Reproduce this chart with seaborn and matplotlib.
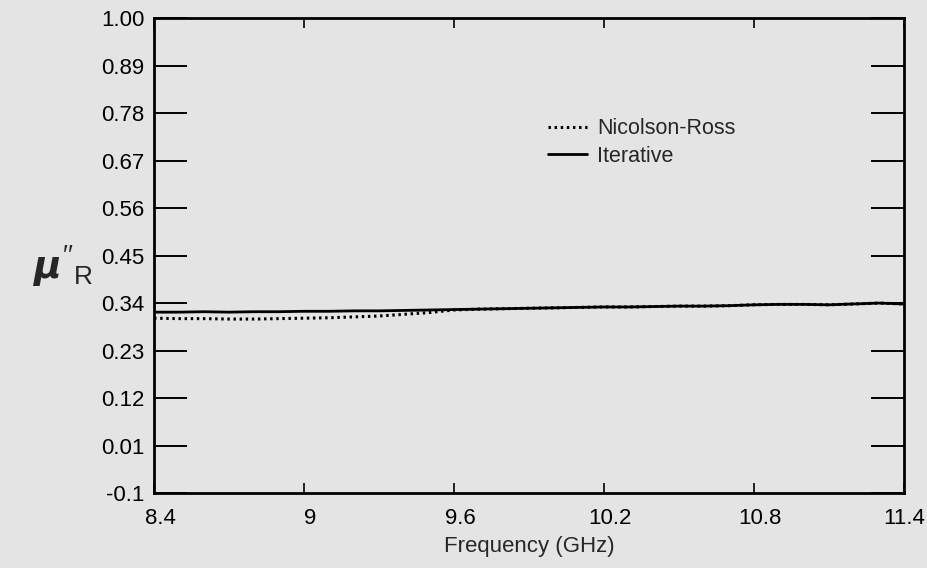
import matplotlib
matplotlib.use("Agg")
import matplotlib.pyplot as plt
import matplotlib.transforms as mtransforms
import pandas as pd
import seaborn as sns

# frequency grid (GHz) and the two extracted permeability curves
freq = [8.4, 8.5, 8.6, 8.7, 8.8, 8.9, 9.0, 9.1, 9.2, 9.3, 9.4, 9.5, 9.6, 9.7, 9.8, 9.9,
        10.0, 10.1, 10.2, 10.3, 10.4, 10.5, 10.6, 10.7, 10.8, 10.9, 11.0, 11.1, 11.2, 11.3, 11.4]
iterative = [0.319, 0.319, 0.320, 0.319, 0.320, 0.320, 0.321, 0.321, 0.322, 0.322, 0.323,
             0.324, 0.325, 0.326, 0.327, 0.328, 0.329, 0.330, 0.331, 0.331, 0.332, 0.333,
             0.333, 0.334, 0.336, 0.337, 0.337, 0.336, 0.338, 0.340, 0.338]
nicolson_ross = [0.305, 0.304, 0.304, 0.303, 0.303, 0.304, 0.305, 0.306, 0.308, 0.310, 0.314,
                 0.318, 0.324, 0.326, 0.327, 0.328, 0.329, 0.330, 0.331, 0.331, 0.332, 0.333,
                 0.333, 0.334, 0.336, 0.337, 0.337, 0.336, 0.338, 0.340, 0.338]

xticks = [8.4, 9.0, 9.6, 10.2, 10.8, 11.4]
xtick_labels = ["8.4", "9", "9.6", "10.2", "10.8", "11.4"]
yticks = [-0.1, 0.01, 0.12, 0.23, 0.34, 0.45, 0.56, 0.67, 0.78, 0.89, 1.00]
ytick_labels = ["-0.1", "0.01", "0.12", "0.23", "0.34", "0.45", "0.56", "0.67", "0.78", "0.89", "1.00"]

BG = "#e4e4e4"

sns.set_style("ticks")
plt.rcParams["font.family"] = ["Liberation Sans", "DejaVu Sans"]
plt.rcParams["mathtext.fontset"] = "custom"
plt.rcParams["mathtext.it"] = "DejaVu Sans:italic:bold"
plt.rcParams["mathtext.rm"] = "Liberation Sans"

df = pd.DataFrame({"freq": freq, "Iterative": iterative, "Nicolson-Ross": nicolson_ross})

fig = plt.figure(figsize=(9.28, 5.68), dpi=100, facecolor=BG)
ax = fig.add_axes([0.166, 0.132, 0.808, 0.836], facecolor=BG)

sns.lineplot(data=df, x="freq", y="Nicolson-Ross", ax=ax, color="black",
             linestyle=(0, (0.8, 1.2)), linewidth=2.2, label="Nicolson-Ross")
sns.lineplot(data=df, x="freq", y="Iterative", ax=ax, color="black",
             linewidth=2.0, label="Iterative")

ax.set_xlim(8.4, 11.4)
ax.set_ylim(-0.1, 1.0)
ax.set_xticks(xticks)
ax.set_xticklabels(xtick_labels)
ax.set_yticks(yticks)
ax.set_yticklabels(ytick_labels)

ax.tick_params(axis="y", direction="in", length=24, width=1.4, left=True, right=True,
               labelsize=16, pad=7, colors="black")
ax.tick_params(axis="x", direction="in", length=7, width=1.2, top=True, bottom=True,
               labelsize=16, pad=11, colors="black")

# the scanned x tick labels sit a little right of their ticks (last one stays put)
shift = mtransforms.ScaledTranslation(6 / 100, 0, fig.dpi_scale_trans)
for lab in ax.get_xticklabels()[:-1]:
    lab.set_transform(lab.get_transform() + shift)

for sp in ax.spines.values():
    sp.set_linewidth(2)
    sp.set_color("black")

ax.set_xlabel("Frequency (GHz)", fontsize=16, labelpad=5)
ax.set_ylabel("")
fig.text(0.035, 0.532, r"$\mu''_{\mathrm{R}}$", fontsize=27,
         ha="left", va="center")

leg = ax.legend(loc="upper left", bbox_to_anchor=(0.50, 0.83), frameon=False,
                fontsize=15.5, handlelength=1.8, handletextpad=0.45, labelspacing=0.3)

fig.savefig("out.png", dpi=100, facecolor=BG)
